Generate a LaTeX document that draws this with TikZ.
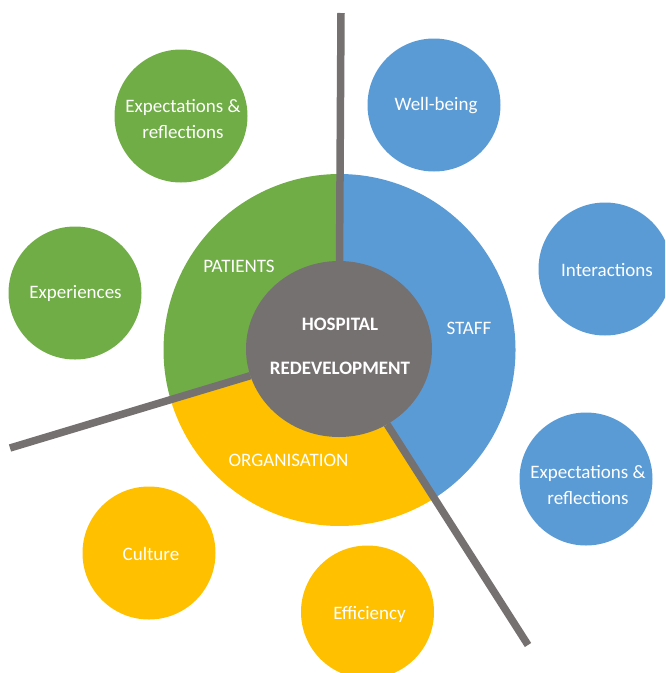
\documentclass[tikz,border=0pt]{standalone}
\usepackage{fontspec}
\setmainfont{Carlito}
\usetikzlibrary{shapes.geometric}
\definecolor{cgreen}{HTML}{70AD47}
\definecolor{cblue}{HTML}{5B9BD5}
\definecolor{corange}{HTML}{FFC000}
\definecolor{cgrey}{HTML}{767171}
\tikzset{
  bubble/.style={circle, minimum size=133pt, inner sep=0pt, outer sep=0pt},
  btxt/.style={text=white, inner sep=0pt, align=center, font=\fontsize{19}{26}\selectfont},
  lbl/.style={text=white, inner sep=0pt, font=\fontsize{19}{26}\selectfont},
  hubtxt/.style={text=white, inner sep=0pt, font=\fontsize{19}{26}\selectfont\bfseries},
  bar/.style={draw=cgrey, line width=7.5pt}
}
\begin{document}
\begin{tikzpicture}[x=1pt,y=-1pt]
\useasboundingbox (0,0) rectangle (665,673);
\clip (0,0) rectangle (665,673);
% ring
\coordinate (ctr) at (339.5,350);
\fill[cblue] (ctr) -- ++(-57.5:176pt) arc[start angle=-57.5, end angle=90, radius=176pt] -- cycle;
\fill[cgreen] (ctr) -- ++(90:176pt) arc[start angle=90, end angle=196.7, radius=176pt] -- cycle;
\fill[corange] (ctr) -- ++(196.7:176pt) arc[start angle=196.7, end angle=302.5, radius=176pt] -- cycle;
% hub
\node[ellipse, fill=cgrey, minimum width=186pt, minimum height=176pt, inner sep=0pt, outer sep=0pt] (hub) at (339,349) {};
\coordinate (top) at (341,13);
\coordinate (ll) at (10,448);
\coordinate (lr) at (528,645);
\draw[bar] (hub) -- (top);
\draw[bar] (hub) -- (ll);
\draw[bar] (hub) -- (lr);
\node[hubtxt] (h1) at (340,324) {HOSPITAL};
\node[hubtxt] (h2) at (340,368) {REDEVELOPMENT};
% sector labels
\node[lbl] (pat) at (239,266) {PATIENTS};
\node[lbl] (stf) at (469,328) {STAFF};
\node[lbl] (org) at (288.5,460) {ORGANISATION};
% bubbles
\node[bubble, fill=cgreen] (pexp) at (181,116) {};
\node[btxt] (pexpt) at (183,119) {Expectations \&\\reflections};
\node[bubble, fill=cgreen] (pexr) at (75,293) {};
\node[btxt] (pexrt) at (75.5,293) {Experiences};
\node[bubble, fill=cblue] (swb) at (434,105) {};
\node[btxt] (swbt) at (436,106) {Well-being};
\node[bubble, fill=cblue] (sint) at (605,269) {};
\node[btxt] (sintt) at (607,270) {Interactions};
\node[bubble, fill=cblue] (sexp) at (586,479) {};
\node[btxt] (sexpt) at (588,485) {Expectations \&\\reflections};
\node[bubble, fill=corange] (ocul) at (149,553) {};
\node[btxt] (ocult) at (151,554) {Culture};
\node[bubble, fill=corange] (oeff) at (367.5,612) {};
\node[btxt] (oefft) at (369.5,614) {Efficiency};
\end{tikzpicture}
\end{document}
